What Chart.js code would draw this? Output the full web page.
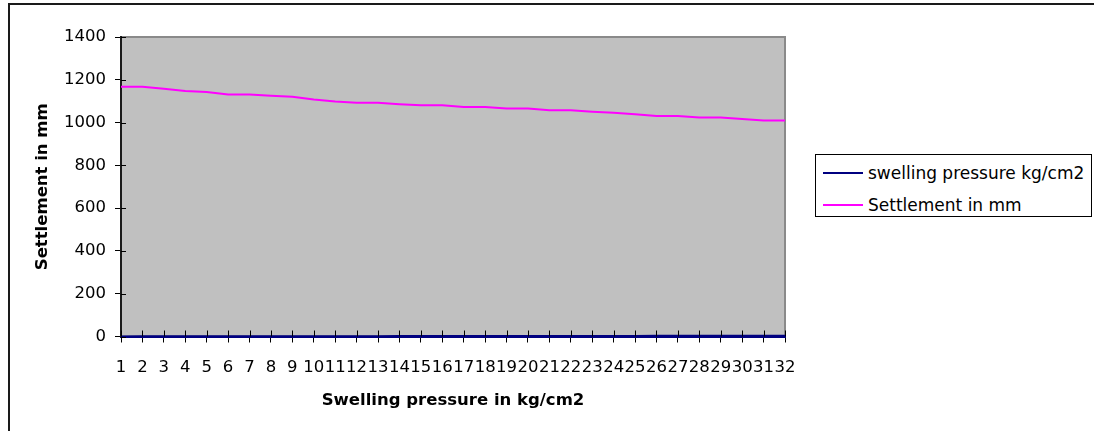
<!DOCTYPE html>
<html>
<head>
<meta charset="utf-8">
<script src="https://cdn.jsdelivr.net/npm/chart.js@4.4.1/dist/chart.umd.min.js"></script>
<style>
body { margin: 0; background: #fff; }
#wrap { position: relative; width: 1094px; height: 431px; overflow: hidden; }
#frame { position: absolute; left: 8px; top: 3px; width: 2000px; height: 1000px; border: 2px solid #1a1a1a; }
#chart { position: absolute; left: 0; top: 0; }
#legend { position: absolute; left: 815px; top: 154px; width: 275px; height: 61px;
  border: 1.5px solid #000; background: #fff; font: 17px "DejaVu Sans"; color: #000; }
.item { position: absolute; left: 0; height: 20px; line-height: 20px; white-space: nowrap; }
.item span.swatch { position: absolute; left: 7px; top: 9px; width: 40px; height: 2px; }
.item span.txt { position: absolute; left: 52px; top: 0; }
</style>
</head>
<body>
<div id="wrap">
  <div id="frame"></div>
  <canvas id="chart" width="1094" height="431"></canvas>
  <div id="legend"></div>
</div>
<script>
// data
var categories = ["1","2","3","4","5","6","7","8","9","10","11","12","13","14","15","16",
  "17","18","19","20","21","22","23","24","25","26","27","28","29","30","31","32"];
var swellingPressure = [0.5, 0.6, 0.7, 0.8, 0.9, 1.0, 1.1, 1.2, 1.3, 1.4, 1.5, 1.6, 1.7, 1.8, 1.9, 2.0,
  2.1, 2.2, 2.3, 2.4, 2.5, 2.6, 2.7, 2.8, 2.9, 3.0, 3.1, 3.2, 3.3, 3.4, 3.5, 3.6];
var settlement = [1168, 1168, 1158, 1148, 1143, 1131, 1131, 1125, 1121, 1108, 1098, 1093, 1093, 1086, 1081, 1081,
  1073, 1073, 1066, 1066, 1058, 1058, 1051, 1046, 1039, 1031, 1031, 1024, 1024, 1017, 1010, 1010];
var seriesNames = ["swelling pressure kg/cm2", "Settlement in mm"];
var seriesColors = ["#000080", "#ff00ff"];
var yMin = 0, yMax = 1400, yStep = 200;

var tickFont = { family: "DejaVu Sans", size: 16.5 };
var titleFont = { family: "DejaVu Sans", size: 16.5, weight: "bold" };

// grey plot area with its border
var plotArea = {
  id: "plotArea",
  beforeDraw: function(chart) {
    var a = chart.chartArea, ctx = chart.ctx;
    ctx.save();
    ctx.fillStyle = "#c0c0c0";
    ctx.fillRect(a.left, a.top, a.right - a.left, a.bottom - a.top);
    ctx.strokeStyle = "#8a8a8a";
    ctx.lineWidth = 2;
    ctx.strokeRect(a.left, a.top, a.right - a.left, a.bottom - a.top);
    ctx.restore();
  }
};

// the inner half of the crossing tick marks
var crossTicks = {
  id: "crossTicks",
  afterDraw: function(chart) {
    var ctx = chart.ctx, a = chart.chartArea;
    var xs = chart.scales.x, ys = chart.scales.y;
    ctx.save();
    ctx.strokeStyle = "#000";
    ctx.lineWidth = 1;
    ctx.beginPath();
    ys.ticks.forEach(function(t) {
      var y = Math.round(ys.getPixelForValue(t.value)) + 0.5;
      ctx.moveTo(a.left, y);
      ctx.lineTo(a.left + 5, y);
    });
    categories.forEach(function(c, i) {
      var x = Math.round(xs.getPixelForValue(i)) + 0.5;
      ctx.moveTo(x, a.bottom);
      ctx.lineTo(x, a.bottom - 6);
    });
    ctx.stroke();
    ctx.restore();
  }
};

var chart = new Chart(document.getElementById("chart").getContext("2d"), {
  type: "line",
  data: {
    labels: categories,
    datasets: [
      { label: seriesNames[0], data: swellingPressure, borderColor: seriesColors[0], borderWidth: 2,
        pointRadius: 0, tension: 0, clip: false },
      { label: seriesNames[1], data: settlement, borderColor: seriesColors[1], borderWidth: 2,
        pointRadius: 0, tension: 0 }
    ]
  },
  options: {
    responsive: false,
    animation: false,
    layout: { padding: { left: 0, top: 37, right: 309, bottom: 0 } },
    plugins: { legend: { display: false }, tooltip: { enabled: false } },
    scales: {
      x: {
        offset: false,
        grid: { drawOnChartArea: false, drawTicks: true, tickLength: 6, color: "#000" },
        border: { display: true, color: "#000080", width: 2 },
        ticks: { color: "#000", font: tickFont, autoSkip: false, maxRotation: 0, minRotation: 0, padding: 15 },
        title: { display: true, text: "Swelling pressure in kg/cm2", color: "#000", font: titleFont,
          padding: { top: 0, bottom: 20 } },
        afterFit: function(scale) { scale.height = 94.5; }
      },
      y: {
        min: yMin, max: yMax,
        grid: { drawOnChartArea: false, drawTicks: true, tickLength: 6, color: "#000" },
        border: { display: true, color: "#1a1a1a", width: 2 },
        ticks: { stepSize: yStep, color: "#000", font: tickFont, padding: 9,
          callback: function(v) { return String(v); } },
        title: { display: true, text: "Settlement in mm", color: "#000", font: titleFont,
          padding: { top: 33, bottom: 0 } },
        afterFit: function(scale) { scale.width = 121; }
      }
    }
  },
  plugins: [plotArea, crossTicks]
});

// legend built from the datasets
var legend = document.getElementById("legend");
chart.data.datasets.forEach(function(ds, i) {
  var item = document.createElement("div");
  item.className = "item";
  item.style.top = (8 + i * 31.6) + "px";
  var sw = document.createElement("span");
  sw.className = "swatch";
  sw.style.background = ds.borderColor;
  var txt = document.createElement("span");
  txt.className = "txt";
  txt.textContent = ds.label;
  item.appendChild(sw);
  item.appendChild(txt);
  legend.appendChild(item);
});
</script>
</body>
</html>
